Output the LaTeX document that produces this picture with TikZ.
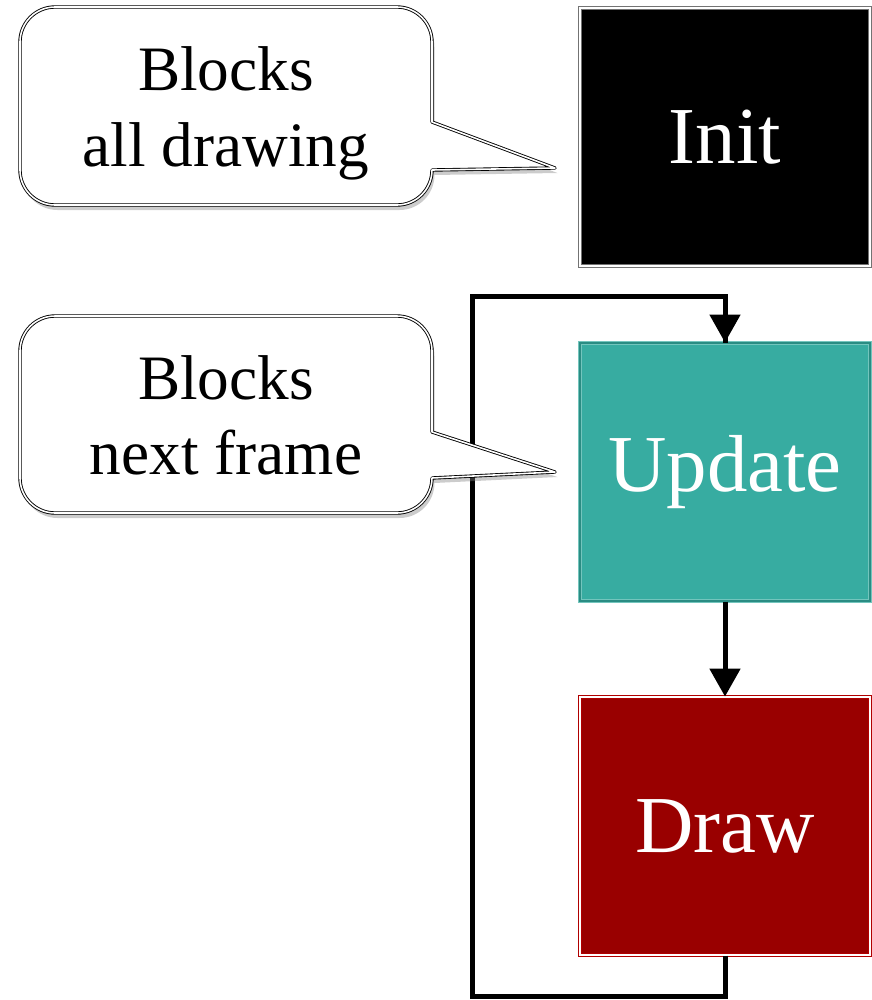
\documentclass[tikz,border=0pt]{standalone}
\usepackage{fontspec}
\setmainfont{Liberation Serif}
\usetikzlibrary{arrows.meta,positioning,shadows}
\definecolor{initfill}{HTML}{000000}
\definecolor{updfill}{HTML}{37ACA1}
\definecolor{updline}{HTML}{2A8C83}
\definecolor{drawfill}{HTML}{990000}
\definecolor{drawline}{HTML}{B00000}

\begin{document}
\begin{tikzpicture}[>={Triangle[length=0.56cm,width=0.6cm]},
  stage/.style={minimum width=5.8cm,minimum height=5.16cm,inner sep=0pt,
    text=white,font=\fontsize{46}{52}\selectfont,line width=0.6pt,double distance=0.8pt},
  bubble/.style={draw=black,double=white,double distance=0.9pt,line width=0.5pt,
    fill=white,line join=round,
    drop shadow={shadow xshift=0.05cm,shadow yshift=-0.1cm,opacity=0.4}},
  bubbletext/.style={align=center,font=\fontsize{36}{43}\selectfont},
  flow/.style={line width=2.85pt}]
\useasboundingbox (0,0) rectangle (17.44,-20);
%---------------- stages (right)
\node[stage,fill=initfill,draw=black!55,double=white] (init) at (14.5,-2.74) {Init};
\node[stage,fill=updfill,draw=updfill!70!white,double=updline,below=1.52cm of init] (update) {Update};
\node[stage,fill=drawfill,draw=drawline,double=white,below=1.9cm of update] (draw) {Draw};

% frame loop
\coordinate (lb) at (9.44,-19.92);
\coordinate (lt) at (9.44,-5.92);
\draw[flow] (draw.south) |- (lb) -- (lt) -| (update.north);
\draw[flow,->] (lt -| update.north) -- (update.north);
\draw[flow,->] (update.south) -- (draw.north);

%---------------- callouts (left)
\coordinate (tipA) at (11.1,-3.36);
\coordinate (tipB) at (11.1,-9.44);
% outlines
\draw[bubble] (8.64,-2.44) [rounded corners=0.7cm] -- (8.64,-0.14) -- (0.4,-0.14)
  -- (0.4,-4.1) -- (8.64,-4.1) [sharp corners] -- (8.64,-3.40) -- (tipA) -- cycle;
\draw[bubble] (8.64,-8.64) [rounded corners=0.7cm] -- (8.64,-6.32) -- (0.4,-6.32)
  -- (0.4,-10.26) -- (8.64,-10.26) [sharp corners] -- (8.64,-9.56) -- (tipB) -- cycle;
% texts
\node[bubbletext] (blockA) at (4.52,-2.27) {Blocks\\all drawing};
\node[bubbletext] (blockB) at (4.52,-8.31) {Blocks\\next frame};
\end{tikzpicture}
\end{document}
